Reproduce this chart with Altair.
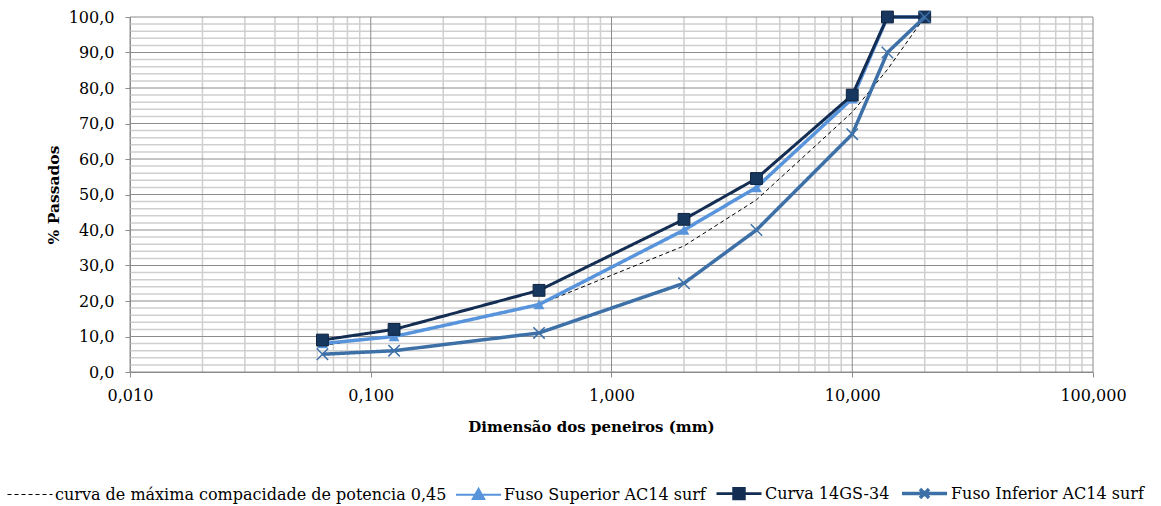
import altair as alt
import pandas as pd

# Sieve sizes (mm) and % passing for each series
sieve_mm = [0.063, 0.125, 0.5, 2, 4, 10, 14, 20]
max_density = [7.5, 10.2, 19.0, 35.5, 48.5, 73.2, 85.2, 100.0]
upper_limit = [8, 10, 19, 40, 52, 77, 100, 100]
mix_curve = [9, 12, 23, 43, 54.5, 78, 100, 100]
lower_limit = [5, 6, 11, 25, 40, 67, 90, 100]

series_names = [
    "curva de máxima compacidade de potencia 0,45",
    "Fuso Superior AC14 surf",
    "Curva 14GS-34",
    "Fuso Inferior AC14 surf",
]
series_colors = ["#000000", "#5894dc", "#142d52", "#3e70a8"]
series_widths = [1, 3.5, 3, 3.5]
series_dash = [[4, 3], [1, 0], [1, 0], [1, 0]]
# legend glyphs: a short line with the series marker on top
legend_shapes = [
    "M-1,0H1",
    "M-1,0H1M0,-0.27L0.26,0.19L-0.26,0.19Z",
    "M-1,0H1M-0.24,-0.24H0.24V0.24H-0.24Z",
    "M-1,0H1M-0.2,-0.2L0.2,0.2M-0.2,0.2L0.2,-0.2",
]

# Grid positions
x_major = [0.01, 0.1, 1, 10, 100]
x_minor = [0.02, 0.03, 0.04, 0.05, 0.06, 0.07, 0.08, 0.09,
           0.2, 0.3, 0.4, 0.5, 0.6, 0.7, 0.8, 0.9,
           2, 3, 4, 5, 6, 7, 8, 9,
           20, 30, 40, 50, 60, 70, 80, 90]
y_major = [0, 10, 20, 30, 40, 50, 60, 70, 80, 90, 100]
y_minor = [2, 4, 6, 8, 12, 14, 16, 18, 22, 24, 26, 28, 32, 34, 36, 38,
           42, 44, 46, 48, 52, 54, 56, 58, 62, 64, 66, 68, 72, 74, 76, 78,
           82, 84, 86, 88, 92, 94, 96, 98]

FONT = "DejaVu Serif"

rows = []
for name, vals in zip(series_names, [max_density, upper_limit, mix_curve, lower_limit]):
    for d, p in zip(sieve_mm, vals):
        rows.append({"serie": name, "d": d, "p": p})
df = pd.DataFrame(rows)

xscale = alt.Scale(type="log", domain=[0.01, 100], nice=False)
yscale = alt.Scale(domain=[0, 100], nice=False)

x_axis = alt.Axis(
    values=x_major, title="Dimensão dos peneiros (mm)", grid=False,
    labelExpr="replace(format(datum.value, '.3f'), '.', ',')",
    labelFont=FONT, labelFontSize=16, labelColor="#000000", labelPadding=10,
    tickSize=5, tickColor="#8c8c8c", domainColor="#8c8c8c",
    titleFont=FONT, titleFontSize=15, titleFontWeight="bold", titleColor="#000000",
    titleX=461, titleY=54, titleBaseline="middle", titleAlign="center",
    labelFlush=False, labelOverlap=False,
)
y_axis = alt.Axis(
    values=y_major, title="% Passados", grid=False,
    labelExpr="replace(format(datum.value, '.1f'), '.', ',')",
    labelFont=FONT, labelFontSize=16, labelColor="#000000", labelPadding=11,
    tickSize=5, tickColor="#8c8c8c", domainColor="#8c8c8c",
    titleFont=FONT, titleFontSize=15.5, titleFontWeight="bold", titleColor="#000000",
    titleX=-77, titleBaseline="middle", titleAlign="center",
    labelFlush=False, labelOverlap=False,
)


def X(field):
    return alt.X(field, type="quantitative", scale=xscale, axis=x_axis)


def Y(field):
    return alt.Y(field, type="quantitative", scale=yscale, axis=y_axis)


grid_x_minor = alt.Chart(pd.DataFrame({"v": x_minor})).mark_rule(color="#cfcfcf", strokeWidth=1.5).encode(x=X("v"))
grid_y_minor = alt.Chart(pd.DataFrame({"v": y_minor})).mark_rule(color="#cfcfcf", strokeWidth=1.5).encode(y=Y("v"))
grid_x_major = alt.Chart(pd.DataFrame({"v": x_major})).mark_rule(color="#8c8c8c", strokeWidth=1).encode(x=X("v"))
grid_y_major = alt.Chart(pd.DataFrame({"v": y_major})).mark_rule(color="#8c8c8c", strokeWidth=1).encode(y=Y("v"))


def series_line(i):
    return alt.Chart(df).transform_filter(alt.datum.serie == series_names[i]).mark_line(
        color=series_colors[i], strokeWidth=series_widths[i], strokeDash=series_dash[i],
    ).encode(x=X("d"), y=Y("p"))


def series_points(i, **mark):
    return alt.Chart(df).transform_filter(alt.datum.serie == series_names[i]).mark_point(
        opacity=1, **mark
    ).encode(x=X("d"), y=Y("p"))


upper_pts = series_points(1, shape="triangle-up", size=120, filled=True, color=series_colors[1])
mix_pts = series_points(2, shape="square", size=140, filled=True, color="#17375e",
                        stroke="#0f2440", strokeWidth=1)
lower_pts = series_points(3, shape="M-1,-1L1,1M-1,1L1,-1", size=130, filled=False,
                          color=series_colors[3], strokeWidth=1.5)

legend = alt.Legend(
    title=None, orient="none", direction="horizontal", legendX=-123, legendY=452,
    symbolSize=2025, labelFont=FONT, labelFontSize=16, labelColor="#000000",
    labelLimit=600, labelOffset=2, columnPadding=5, symbolOpacity=1,
)

legend_layer = alt.Chart(df).transform_filter(alt.datum.d < 0).mark_point(opacity=1).encode(
    x=X("d"),
    y=Y("p"),
    fill=alt.Fill("serie:N", scale=alt.Scale(domain=series_names, range=series_colors), legend=legend),
    stroke=alt.Stroke("serie:N", scale=alt.Scale(domain=series_names, range=series_colors), legend=legend),
    shape=alt.Shape("serie:N", scale=alt.Scale(domain=series_names, range=legend_shapes), legend=legend),
    strokeDash=alt.StrokeDash("serie:N", scale=alt.Scale(domain=series_names, range=series_dash), legend=legend),
    strokeWidth=alt.StrokeWidth("serie:N", scale=alt.Scale(domain=series_names, range=series_widths), legend=legend),
)

chart = alt.layer(
    grid_x_minor, grid_y_minor, grid_x_major, grid_y_major,
    series_line(0),
    series_line(1), upper_pts,
    series_line(2), mix_pts,
    series_line(3), lower_pts,
    legend_layer,
).properties(
    width=963, height=355,
    autosize=alt.AutoSizeParams(type="none"),
    padding={"left": 130, "top": 17, "right": 68, "bottom": 134},
    background="#ffffff",
).configure_view(strokeWidth=0).configure_legend(
    labelFont=FONT, labelFontSize=16, labelColor="#000000", labelLimit=600,
)

chart.save("out.html", embed_options={"renderer": "svg", "actions": False})
